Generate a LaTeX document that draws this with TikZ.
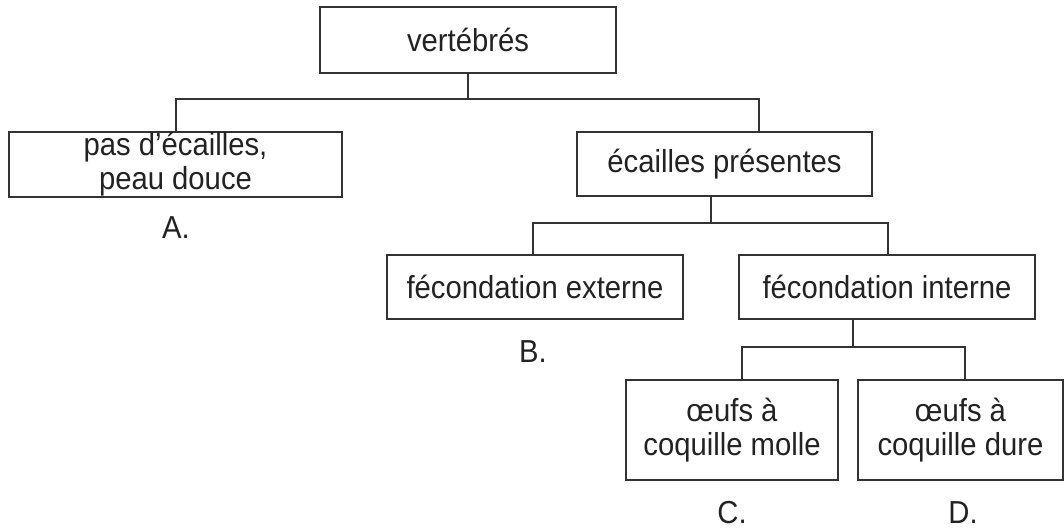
\documentclass[tikz,border=0pt]{standalone}
\usepackage{fontspec}
\setmainfont[FakeStretch=0.92]{Liberation Sans}
\definecolor{inkc}{HTML}{222222}
\definecolor{linec}{HTML}{333333}
\begin{document}
\begin{tikzpicture}[x=1pt,y=-1pt,
  box/.style={draw=linec, line width=1.4pt, inner sep=0pt, align=center,
    text=inkc, font=\fontsize{31.8}{34}\selectfont},
  lbl/.style={inner sep=0pt, text=inkc, font=\fontsize{31.8}{34}\selectfont},
  conn/.style={draw=linec, line width=1.4pt}]
\useasboundingbox (0,0) rectangle (1064,530);
\node[box, minimum width=296pt, minimum height=66pt] (V) at (468,40) {vertébrés};
\node[box, minimum width=333pt, minimum height=65pt] (P) at (175.5,164.5) {pas d’écailles,\\peau douce};
\node[box, minimum width=295pt, minimum height=64pt] (E) at (724.5,164) {écailles présentes};
\node[box, minimum width=296pt, minimum height=64pt] (FE) at (535,287) {fécondation externe};
\node[box, minimum width=296pt, minimum height=64pt] (FI) at (887,287) {fécondation interne};
\node[box, minimum width=212pt, minimum height=100pt] (OM) at (732,430) {œufs à\\coquille molle};
\node[box, minimum width=205pt, minimum height=100pt] (OD) at (960.5,430) {œufs à\\coquille dure};
\node[lbl] (A) at (176,228) {A.};
\node[lbl] (B) at (533,352) {B.};
\node[lbl] (C) at (732,513) {C.};
\node[lbl] (D) at (963,513) {D.};
\coordinate (j1) at (468,99);
\coordinate (j2) at (711,223);
\coordinate (j3) at (853,347);
\draw[conn] (V.south) -- (j1);
\draw[conn] ([xshift=0.5pt]P.north) |- (j1) -| ([xshift=34.5pt]E.north);
\draw[conn] ([xshift=-13.5pt]E.south) -- (j2);
\draw[conn] ([xshift=-2pt]FE.north) |- (j2) -| ([xshift=1pt]FI.north);
\draw[conn] ([xshift=-34pt]FI.south) -- (j3);
\draw[conn] ([xshift=10pt]OM.north) |- (j3) -| ([xshift=4.5pt]OD.north);
\end{tikzpicture}
\end{document}
